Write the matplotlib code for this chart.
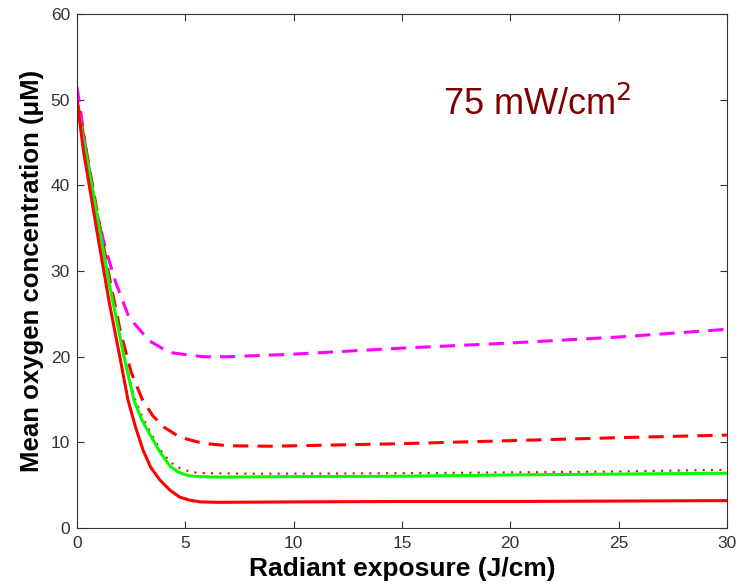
import numpy as np
import matplotlib.pyplot as plt

plt.rcParams['font.family'] = ['Liberation Sans', 'DejaVu Sans']

# curve data
x_red = [0, 0.3, 0.6, 1, 1.5, 2, 2.35, 2.7, 3.05, 3.4, 3.83, 4.3, 4.75, 5.2, 5.7, 6.5, 10, 15, 20, 25, 30]
y_red = [50, 44, 39.5, 33.5, 26.2, 19.7, 15, 11.8, 9.1, 7.1, 5.6, 4.4, 3.6, 3.25, 3.05, 3.0, 3.05, 3.1, 3.1, 3.15, 3.2]

x_green = [0, 0.4, 1, 1.5, 2.17, 2.63, 3.0, 3.37, 3.8, 4.3, 4.7, 5.1, 5.6, 6.5, 10, 15, 20, 25, 30]
y_green = [49.5, 44, 35.5, 28.4, 20, 14.9, 12.6, 10.9, 9.0, 7.2, 6.5, 6.15, 6.0, 5.95, 6.0, 6.05, 6.2, 6.3, 6.4]

x_dot = [0, 0.4, 1, 1.5, 2.17, 2.63, 3.0, 3.37, 3.83, 4.3, 4.8, 5.35, 6, 8, 10, 15, 20, 25, 30]
y_dot = [49.5, 44, 35.5, 28.5, 20.2, 15.3, 13.1, 11.3, 9.2, 7.7, 6.9, 6.5, 6.4, 6.35, 6.35, 6.4, 6.5, 6.6, 6.8]

x_rdash = [0, 0.4, 1, 1.5, 2, 2.5, 3, 3.5, 4, 4.75, 5.8, 7, 9, 12, 15, 20, 25, 30]
y_rdash = [50, 44.5, 36, 29.2, 23, 18.2, 15.1, 13.1, 11.8, 10.6, 9.9, 9.6, 9.55, 9.7, 9.85, 10.2, 10.55, 10.85]

x_mag = [0, 0.15, 0.42, 0.88, 1.34, 1.8, 2.4, 3.32, 4.25, 5.8, 7, 10, 15, 20, 25, 30]
y_mag = [51.5, 49, 44.1, 37.1, 32.4, 28.6, 24.6, 21.9, 20.5, 20.0, 20.0, 20.3, 21, 21.6, 22.3, 23.2]

fig = plt.figure(figsize=(7.36, 5.88), dpi=100)
ax = fig.add_axes([0.1046, 0.102, 0.883, 0.874])

lw = 2.2
ax.plot(x_mag, y_mag, color='#ff00ff', lw=lw, dashes=(5, 3))
ax.plot(x_rdash, y_rdash, color='#ff0000', lw=lw, dashes=(5, 3))
ax.plot(x_dot, y_dot, color='#ff0000', lw=1.5, dashes=(1, 3))
ax.plot(x_green, y_green, color='#00ff00', lw=lw)
ax.plot(x_red, y_red, color='#ff0000', lw=lw)

ax.set_xlim(0, 30)
ax.set_ylim(0, 60)
ax.set_xticks(np.arange(0, 31, 5))
ax.set_yticks(np.arange(0, 61, 10))
ax.tick_params(direction='in', top=True, right=True, labelsize=12.5, length=5, colors='#333333')
ax.tick_params(axis='x', pad=6)
ax.tick_params(axis='y', pad=5)
for s in ax.spines.values():
    s.set_color('#333333')

ax.set_xlabel('Radiant exposure (J/cm)', fontsize=19, fontweight='bold', labelpad=4)
ax.set_ylabel('Mean oxygen concentration (\u03bcM)', fontsize=18.5, fontweight='bold', labelpad=5)

ax.text(16.9, 48.2, '75 mW/cm$^2$', color='#800000', fontsize=26)

fig.savefig('out.png', dpi=100)
